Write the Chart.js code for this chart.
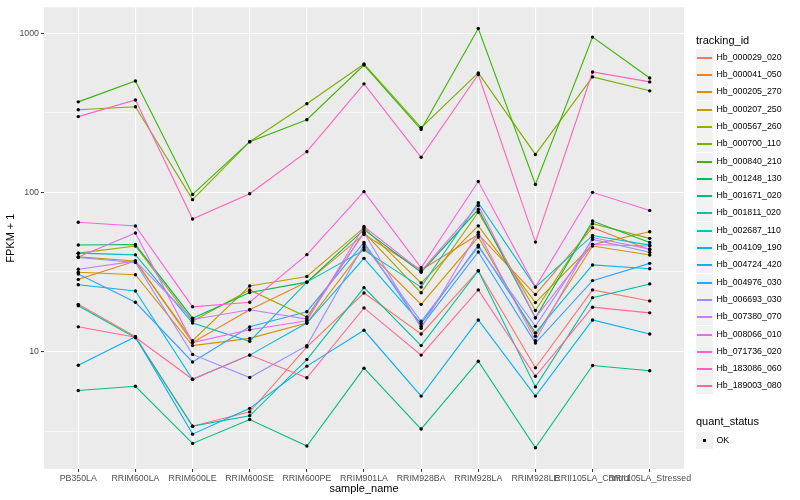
<!DOCTYPE html>
<html>
<head>
<meta charset="utf-8">
<script src="https://cdn.jsdelivr.net/npm/chart.js@4"></script>
<style>
    html, body { margin: 0; padding: 0; background: #fff; }
    #wrap { position: relative; width: 800px; height: 500px; font-family: "Liberation Sans", Arial, sans-serif; }
    #fpkmChart { position: absolute; left: 0; top: 0; }
    .lg-title { position: absolute; font-size: 11px; line-height: 13px; color: #000; white-space: nowrap; }
    .lg-key { position: absolute; width: 17px; height: 17px; background: #F2F2F2; }
    .lg-line { position: absolute; left: 1px; width: 15px; top: 7.5px; height: 2px; }
    .lg-dot { position: absolute; left: 7px; top: 7px; width: 3px; height: 3px; background: #000; }
    .lg-label { position: absolute; font-size: 8.8px; line-height: 11px; color: #000; white-space: nowrap; }
</style>
</head>
<body>
<div id="wrap">
    <canvas id="fpkmChart" width="800" height="500"></canvas>
    <div id="legend"></div>
</div>
<script>
const samples = ['PB350LA', 'RRIM600LA', 'RRIM600LE', 'RRIM600SE', 'RRIM600PE', 'RRIM901LA',
    'RRIM928BA', 'RRIM928LA', 'RRIM928LE', 'RRII105LA_Control', 'RRII105LA_Stressed'];

const trackingIds = ['Hb_000029_020', 'Hb_000041_050', 'Hb_000205_270', 'Hb_000207_250', 'Hb_000567_260',
    'Hb_000700_110', 'Hb_000840_210', 'Hb_001248_130', 'Hb_001671_020', 'Hb_001811_020',
    'Hb_002687_110', 'Hb_004109_190', 'Hb_004724_420', 'Hb_004976_030', 'Hb_006693_030',
    'Hb_007380_070', 'Hb_008066_010', 'Hb_071736_020', 'Hb_183086_060', 'Hb_189003_080'];

// FPKM + 1, one value per sample
const hb000029_020 = [19.8, 12.4, 3.4, 4.18, 10.7, 23.3, 12.9, 32.2, 7.9, 24.4, 20.8];
const hb000041_050 = [28.4, 37, 11.4, 18.3, 27.3, 54.4, 32.5, 54.4, 22.8, 60, 43.6];
const hb000205_270 = [31.5, 30.4, 10.9, 12.1, 15.1, 45, 19.8, 52.4, 12.5, 46, 40.4];
const hb000207_250 = [39.3, 37.1, 11.7, 25.8, 29.6, 60, 27, 61.6, 20.3, 47, 56.5];
const hb000567_260 = [41.5, 46, 15.5, 24.4, 16.5, 56, 23.4, 75, 18.1, 63.5, 51.4];
const hb000700_110 = [330, 345, 90, 208, 360, 640, 255, 562, 173, 531, 434];
const hb000840_210 = [370, 500, 97, 208, 286, 630, 248, 1070, 112, 944, 523];
const hb001248_130 = [46.7, 47, 16.2, 23.5, 27.3, 58.3, 31.5, 78, 16.3, 66, 48.4];
const hb001671_020 = [5.7, 6.05, 2.65, 3.74, 2.55, 7.87, 3.26, 8.7, 2.49, 8.17, 7.57];
const hb001811_020 = [19.4, 12.2, 3.4, 3.95, 8.9, 25.2, 10.9, 32.2, 6.0, 21.8, 26.6];
const hb002687_110 = [41.5, 40.5, 15.1, 11.6, 27.3, 43.4, 25.4, 86, 25.4, 53.6, 46.6];
const hb004109_190 = [26.3, 24, 6.7, 9.5, 15.1, 38.5, 15, 46.6, 13.1, 35, 33.1];
const hb004724_420 = [8.2, 12.4, 3.03, 4.4, 8.1, 13.6, 5.25, 15.8, 5.25, 15.8, 12.9];
const hb004976_030 = [30.7, 20.4, 8.6, 14.3, 17.8, 48.4, 14.4, 42.2, 11.3, 27.9, 35.8];
const hb006693_030 = [39, 36.3, 9.6, 6.87, 10.9, 47, 15.5, 45.4, 14.4, 50.6, 42];
const hb007380_070 = [32.9, 37, 15.9, 18.3, 16, 56, 14, 56.2, 11.7, 52, 44];
const hb008066_010 = [39.3, 55.6, 11.4, 13.7, 15.6, 61, 32, 82.7, 16.3, 47, 46];
const hb071736_020 = [64.9, 61.5, 19.1, 20.4, 40.6, 101, 33.6, 117, 25.4, 100, 77];
const hb183086_060 = [299, 380, 68, 98, 180, 480, 166, 550, 48.7, 570, 494];
const hb189003_080 = [14.3, 12.3, 6.7, 9.5, 6.85, 18.8, 9.5, 24.4, 7.0, 19.0, 17.5];

const fpkm = [hb000029_020, hb000041_050, hb000205_270, hb000207_250, hb000567_260,
    hb000700_110, hb000840_210, hb001248_130, hb001671_020, hb001811_020,
    hb002687_110, hb004109_190, hb004724_420, hb004976_030, hb006693_030,
    hb007380_070, hb008066_010, hb071736_020, hb183086_060, hb189003_080];

const yTicks = [10, 100, 1000];
const quantStatus = ['OK'];

// ggplot default hue palette for 20 groups
const hueColors = ['#F8766D', '#EA8331', '#D89000', '#C09B00', '#A3A500', '#7CAE00', '#39B600', '#00BB4E',
    '#00BF7D', '#00C1A3', '#00BFC4', '#00BAE0', '#00B0F6', '#35A2FF', '#9590FF', '#C77CFF',
    '#E76BF3', '#FA62DB', '#FF62BC', '#FF6A98'];

const FONT = 'Liberation Sans, Arial, sans-serif';
const minorTicks = yTicks.map(v => v / Math.sqrt(10));
const isMajor = v => yTicks.some(t => Math.abs(t - v) / t < 1e-6);

// grey panel like theme_grey
const panelBg = {
    id: 'panelBg',
    beforeDraw(chart) {
        const a = chart.chartArea;
        const c = chart.ctx;
        c.save();
        c.fillStyle = '#EBEBEB';
        c.fillRect(a.left, a.top, a.right - a.left, a.bottom - a.top);
        c.restore();
    }
};

const lineSets = fpkm.map((vals, i) => ({
    label: trackingIds[i],
    data: vals.map((v, j) => ({ x: j, y: v })),
    borderColor: hueColors[i],
    borderWidth: 1.1,
    pointRadius: 0,
    fill: false,
    tension: 0,
    order: fpkm.length - i
}));

const pointSet = {
    label: 'quant_status',
    type: 'scatter',
    data: fpkm.flatMap(vals => vals.map((v, j) => ({ x: j, y: v }))),
    backgroundColor: '#000',
    borderWidth: 0,
    pointRadius: 1.7,
    order: 0
};

const fpkmCtx = document.getElementById('fpkmChart').getContext('2d');
new Chart(fpkmCtx, {
    type: 'line',
    data: { datasets: [pointSet].concat(lineSets) },
    options: {
        responsive: false,
        animation: false,
        layout: { padding: { top: 5, right: 116, left: 0, bottom: 0 } },
        plugins: { legend: { display: false }, tooltip: { enabled: false } },
        scales: {
            x: {
                type: 'linear',
                min: -0.6,
                max: 10.6,
                afterBuildTicks: scale => { scale.ticks = samples.map((s, i) => ({ value: i })); },
                afterFit: scale => { scale.height = 31; },
                ticks: {
                    autoSkip: false,
                    maxRotation: 0,
                    padding: 1,
                    color: '#4D4D4D',
                    font: { family: FONT, size: 8.8 },
                    callback: v => samples[v]
                },
                grid: { color: '#FFFFFF', lineWidth: 1.1, tickLength: 3, tickColor: '#333333', tickWidth: 1 },
                border: { display: false },
                title: { display: true, text: 'sample_name', color: '#000', font: { family: FONT, size: 11 } }
            },
            y: {
                type: 'logarithmic',
                min: 1.83,
                max: 1453,
                afterBuildTicks: scale => {
                    scale.ticks = minorTicks.concat(yTicks).sort((a, b) => a - b).map(v => ({ value: v }));
                },
                afterFit: scale => { scale.width = 44; },
                ticks: {
                    autoSkip: false,
                    padding: 2,
                    color: '#4D4D4D',
                    font: { family: FONT, size: 8.8 },
                    callback: v => isMajor(v) ? String(Math.round(v)) : ''
                },
                grid: {
                    color: '#FFFFFF',
                    lineWidth: c => isMajor(c.tick.value) ? 1.1 : 0.55,
                    tickLength: 3,
                    tickColor: c => isMajor(c.tick.value) ? '#333333' : 'rgba(0,0,0,0)',
                    tickWidth: 1
                },
                border: { display: false },
                title: { display: true, text: 'FPKM + 1', color: '#000', font: { family: FONT, size: 11 } }
            }
        }
    },
    plugins: [panelBg]
});

// legends on the right, as in ggplot
const legend = document.getElementById('legend');
function addEl(cls, left, top, text) {
    const el = document.createElement('div');
    el.className = cls;
    el.style.left = left + 'px';
    el.style.top = top + 'px';
    if (text !== undefined) el.textContent = text;
    legend.appendChild(el);
    return el;
}

addEl('lg-title', 696, 34, 'tracking_id');
trackingIds.forEach((id, i) => {
    const cy = Math.round(56.7 + 17.3 * i);
    const key = addEl('lg-key', 696, cy - 8);
    const line = document.createElement('div');
    line.className = 'lg-line';
    line.style.background = hueColors[i];
    key.appendChild(line);
    addEl('lg-label', 716.5, cy - 5.5, id);
});

addEl('lg-title', 696, 414.5, 'quant_status');
quantStatus.forEach((s, i) => {
    const cy = 440 + 17 * i;
    const key = addEl('lg-key', 696, cy - 8);
    const dot = document.createElement('div');
    dot.className = 'lg-dot';
    key.appendChild(dot);
    addEl('lg-label', 716.5, cy - 5.5, s);
});
</script>
</body>
</html>
